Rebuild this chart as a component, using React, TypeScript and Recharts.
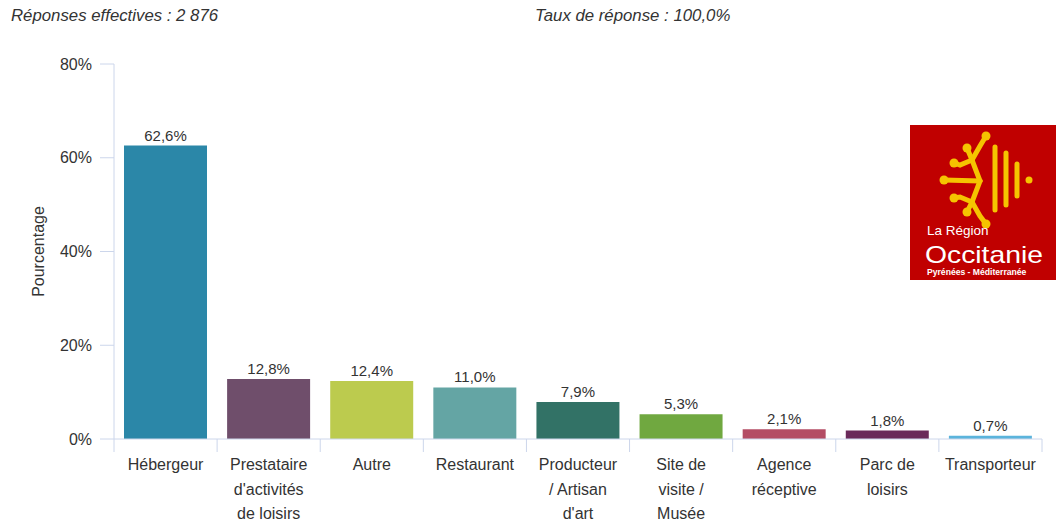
import React from 'react';
import { BarChart, Bar, XAxis, YAxis, Cell, LabelList } from 'recharts';

const categories = [
  'Hébergeur',
  "Prestataire d'activités de loisirs",
  'Autre',
  'Restaurant',
  "Producteur / Artisan d'art",
  'Site de visite / Musée',
  'Agence réceptive',
  'Parc de loisirs',
  'Transporteur',
];
const percentages = [62.6, 12.8, 12.4, 11.0, 7.9, 5.3, 2.1, 1.8, 0.7];
const barColors = [
  '#2b87a8', // Hébergeur
  '#6f4e6b', // Prestataire
  '#bccb4e', // Autre
  '#64a5a4', // Restaurant
  '#327266', // Producteur
  '#70a840', // Site de visite
  '#b44d65', // Agence
  '#6a2a5a', // Parc
  '#5bb4dc', // Transporteur
];
const yTicks = [0, 20, 40, 60, 80];

const data = categories.map((name, i) => ({ name, value: percentages[i] }));

const FONT = '"Liberation Sans", Arial, sans-serif';
const AXIS = '#ccd6eb';
const W = 1056;
const H = 523;
const X_AXIS_H = 84;
const M = { top: 64, right: 14, bottom: 0, left: 0 };
const Y_AXIS_W = 114;

let ctx: CanvasRenderingContext2D | null = null;
function textWidth(s: string) {
  if (!ctx) ctx = document.createElement('canvas').getContext('2d');
  if (!ctx) return s.length * 8;
  ctx.font = `16px ${FONT}`;
  return ctx.measureText(s).width;
}

function wrap(s: string, max: number) {
  const lines: string[] = [];
  let cur = '';
  for (const w of s.split(' ')) {
    const next = cur ? cur + ' ' + w : w;
    if (cur && textWidth(next) > max) {
      lines.push(cur);
      cur = w;
    } else cur = next;
  }
  if (cur) lines.push(cur);
  return lines;
}

function CategoryTick(props: any) {
  const { x, y, payload, index } = props;
  const bw = (W - M.left - M.right - Y_AXIS_W) / categories.length;
  const lines = wrap(payload.value, 86);
  return (
    <g>
      <line x1={x - bw / 2} y1={y} x2={x - bw / 2} y2={y + 13} stroke={AXIS} />
      {index === categories.length - 1 && (
        <line x1={x + bw / 2} y1={y} x2={x + bw / 2} y2={y + 13} stroke={AXIS} />
      )}
      <text x={x} y={y + 31} textAnchor="middle" fill="#333" fontSize={16} fontFamily={FONT}>
        {lines.map((l, i) => (
          <tspan key={i} x={x} dy={i === 0 ? 0 : 24.5}>
            {l}
          </tspan>
        ))}
      </text>
    </g>
  );
}

function YTitle(props: any) {
  const { viewBox } = props;
  const cy = viewBox.y + viewBox.height / 2;
  return (
    <text
      x={38}
      y={cy}
      transform={`rotate(-90 38 ${cy})`}
      textAnchor="middle"
      dominantBaseline="central"
      fill="#333"
      fontSize={16}
      fontFamily={FONT}
    >
      Pourcentage
    </text>
  );
}

function Logo() {
  const y = '#f5c400';
  const ends = [
    [986, 136],
    [967, 148],
    [954, 163],
    [944, 180],
    [954, 198],
    [967, 212],
    [986, 224],
  ];
  return (
    <svg width={W} height={H} style={{ position: 'absolute', left: 0, top: 0, pointerEvents: 'none' }}>
      <rect x={910} y={125} width={146} height={155} fill="#c00000" />
      <g stroke={y} strokeWidth={5} strokeLinecap="round" fill="none">
        <path d="M980 181 L972 160 L980 146 L986 136" />
        <path d="M972 160 L967 148" />
        <path d="M972 160 L960 165 L954 163" />
        <path d="M980 181 L944 180" />
        <path d="M980 181 L972 202 L980 216 L986 224" />
        <path d="M972 202 L967 212" />
        <path d="M972 202 L960 197 L954 198" />
        <line x1={995} y1={147} x2={995} y2={210} />
        <line x1={1006} y1={153} x2={1006} y2={205} />
        <line x1={1017} y1={164} x2={1017} y2={196} />
      </g>
      <g fill={y}>
        {ends.map((p, i) => (
          <circle key={i} cx={p[0]} cy={p[1]} r={4.5} />
        ))}
        <circle cx={1029} cy={180} r={3.5} />
      </g>
      <text x={927} y={235} fill="#fff" fontSize={13.5} fontFamily={FONT}>
        La Région
      </text>
      <text
        x={925}
        y={263}
        fill="#fff"
        fontSize={24}
        fontFamily={FONT}
        textLength={118}
        lengthAdjust="spacingAndGlyphs"
      >
        Occitanie
      </text>
      <text x={927} y={275} fill="#fff" fontSize={8.6} fontWeight="bold" fontFamily={FONT}>
        Pyrénées - Méditerranée
      </text>
    </svg>
  );
}

export default function App() {
  const header: React.CSSProperties = {
    position: 'absolute',
    top: 6,
    fontStyle: 'italic',
    fontSize: 16.8,
    color: '#333',
    fontFamily: FONT,
    whiteSpace: 'nowrap',
  };
  return (
    <div style={{ position: 'absolute', left: 0, top: 0, width: W, height: H, background: '#fff' }}>
      <div style={{ ...header, left: 11 }}>Réponses effectives : 2 876</div>
      <div style={{ ...header, left: 535 }}>Taux de réponse : 100,0%</div>
      <BarChart width={W} height={H} data={data} margin={M} barCategoryGap={10}>
        <XAxis
          dataKey="name"
          interval={0}
          tickLine={false}
          tickSize={0}
          tickMargin={0}
          axisLine={{ stroke: AXIS }}
          tick={<CategoryTick />}
          height={X_AXIS_H}
        />
        <YAxis
          width={Y_AXIS_W}
          domain={[0, 80]}
          ticks={yTicks}
          tickFormatter={(v: number) => `${v}%`}
          tickSize={14}
          tickMargin={8}
          axisLine={{ stroke: AXIS }}
          tickLine={{ stroke: AXIS }}
          tick={{ fill: '#333', fontSize: 16, fontFamily: FONT }}
          label={<YTitle />}
        />
        <Bar dataKey="value" isAnimationActive={false}>
          {data.map((_, i) => (
            <Cell key={i} fill={barColors[i]} />
          ))}
          <LabelList
            dataKey="value"
            position="top"
            offset={5}
            fill="#333"
            fontSize={15}
            fontFamily={FONT}
            formatter={(v: any) => `${Number(v).toFixed(1).replace('.', ',')}%`}
          />
        </Bar>
      </BarChart>
      <Logo />
    </div>
  );
}
